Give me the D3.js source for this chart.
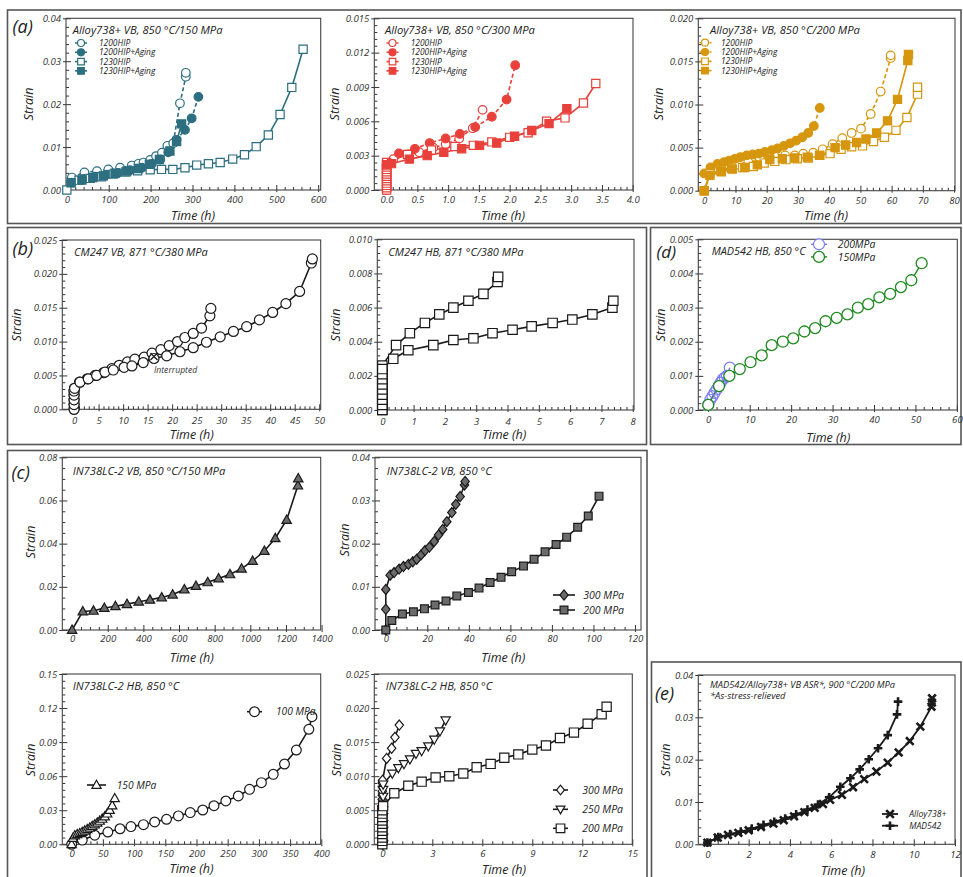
<!DOCTYPE html>
<html>
<head>
<meta charset="utf-8">
<script src="https://cdn.jsdelivr.net/npm/d3@7"></script>
<style>
  html, body { margin: 0; padding: 0; background: #fff; }
  svg { display: block; font-family: "Open Sans", "DejaVu Sans", sans-serif; }
</style>
</head>
<body>
<svg id="fig" width="963" height="877"></svg>
<script>
// ---------------- creep data: [time (h), strain] ----------------
// (a) Alloy738+ VB, 850 °C / 150 MPa
const a1_1200HIP = [[12,0.0029],[42,0.0041],[72,0.0044],[99,0.0048],[127,0.0052],[155,0.0057],[171,0.0061],[183,0.0064],[199,0.007],[213,0.0079],[227,0.0087],[240,0.0103],[254,0.0109],[270,0.0202],[284,0.0264],[284,0.0273]];
const a1_1200HIPAging = [[12,0.0017],[40,0.0026],[68,0.0031],[95,0.0036],[123,0.004],[151,0.0046],[179,0.0052],[203,0.0061],[223,0.0071],[242,0.0088],[262,0.0117],[282,0.014],[298,0.0167],[314,0.0217]];
const a1_1230HIP = [[0,0],[29,0.0023],[56,0.0027],[83,0.0031],[111,0.0037],[141,0.0042],[169,0.0045],[199,0.0047],[226,0.0048],[253,0.0048],[282,0.0052],[310,0.0058],[338,0.0061],[366,0.0064],[396,0.0072],[424,0.0082],[452,0.0101],[481,0.0128],[509,0.0176],[537,0.0239],[564,0.0328]];
const a1_1230HIPAging = [[10,0.0017],[36,0.0023],[62,0.0029],[87,0.0033],[115,0.0039],[143,0.0044],[171,0.005],[197,0.006],[221,0.0071],[246,0.0091],[262,0.0113],[274,0.0154]];

// (a) Alloy738+ VB, 850 °C / 300 MPa
const a2_1200HIP = [[0,0],[0,0.0002],[0,0.0004],[0,0.0006],[0,0.0008],[0,0.001],[0,0.0012],[0,0.0014],[0,0.0016],[0,0.0018],[0,0.002],[0,0.0022],[0.11,0.0027],[0.34,0.0031],[0.53,0.0033],[0.76,0.0037],[0.96,0.004],[1.18,0.0045],[1.4,0.0054],[1.56,0.007]];
const a2_1200HIPAging = [[0,0.0022],[0.2,0.0032],[0.46,0.0036],[0.7,0.0041],[0.96,0.0045],[1.19,0.0049],[1.44,0.0055],[1.71,0.0064],[1.95,0.0079],[2.09,0.0109]];
const a2_1230HIP = [[0,0],[0,0.0002],[0,0.0004],[0,0.0006],[0,0.0008],[0,0.001],[0,0.0012],[0,0.0014],[0,0.0016],[0,0.0018],[0,0.002],[0,0.0022],[0,0.0024],[0.34,0.0031],[0.73,0.0035],[1.11,0.0038],[1.41,0.0039],[1.71,0.0042],[2.0,0.0046],[2.3,0.005],[2.6,0.006],[2.9,0.0063],[3.2,0.0076],[3.4,0.0093]];
const a2_1230HIPAging = [[0,0.0022],[0.08,0.0023],[0.37,0.0027],[0.66,0.003],[0.93,0.0033],[1.22,0.0036],[1.51,0.0039],[1.79,0.0041],[2.08,0.0047],[2.36,0.0052],[2.64,0.0058],[2.93,0.0071]];

// (a) Alloy738+ VB, 850 °C / 200 MPa
const a3_1200HIP = [[0,0],[1.8,0.002],[5.6,0.0024],[9.8,0.0029],[14.1,0.0033],[17.8,0.0038],[22.6,0.004],[25.9,0.0041],[29,0.0041],[31.7,0.0043],[34.9,0.0044],[37.9,0.0048],[41.1,0.0054],[44.2,0.0061],[47.2,0.0067],[50.2,0.0072],[53.3,0.0089],[56.5,0.0115],[59.7,0.0154],[59.7,0.0157]];
const a3_1200HIPAging = [[0,0.002],[2,0.0027],[4.2,0.0031],[6.3,0.0033],[8,0.0035],[9.8,0.0037],[11.6,0.0039],[13.6,0.0041],[15.5,0.0042],[17.5,0.0043],[19.4,0.0045],[21.6,0.0047],[23.5,0.0049],[25.5,0.0052],[27.5,0.0055],[29.4,0.0058],[31.4,0.0062],[33.3,0.0067],[35.1,0.0075],[37,0.0096]];
const a3_1230HIP = [[0,0],[1.8,0.002],[5.2,0.0023],[8.8,0.0026],[12.3,0.0027],[15.7,0.0028],[19.2,0.0032],[22.6,0.0034],[26.2,0.0036],[29.8,0.0037],[33.3,0.0038],[36.9,0.0041],[40.3,0.0043],[43.8,0.0048],[47.2,0.0051],[50.7,0.0052],[54.2,0.0057],[57.7,0.0062],[61.4,0.007],[64.9,0.0085],[68.3,0.0112],[68.3,0.012]];
const a3_1230HIPAging = [[0,0],[1.8,0.0018],[5.5,0.0022],[9,0.0025],[13,0.0027],[17,0.003],[21,0.0036],[25,0.0037],[29,0.0038],[33,0.0039],[37,0.0041],[41.9,0.005],[45.3,0.0053],[48.8,0.0056],[51.8,0.006],[55.2,0.0067],[58.7,0.0081],[61.9,0.0106],[65.2,0.0151],[65.4,0.0158]];

// (b) CM247 VB / HB, 871 °C / 380 MPa
const b1_testA = [[0,0],[0,0.0007],[0,0.0014],[0,0.0021],[0,0.0027],[0.1,0.0031],[1.1,0.004],[2.7,0.0045],[4.3,0.005],[6,0.0054],[7.7,0.006],[9.2,0.0065],[10.9,0.007],[12.4,0.0074],[14.3,0.0077],[15.9,0.0083],[17.7,0.0088],[19.4,0.0094],[21.1,0.01],[22.6,0.0106],[24.3,0.0112],[26,0.012],[27.7,0.0138],[27.9,0.0149]];
const b1_testB = [[0,0],[0,0.0007],[0,0.0014],[0,0.0021],[0,0.0027],[0.1,0.0031],[1.2,0.004],[2.9,0.0045],[4.6,0.005],[6.3,0.0055],[8,0.0058],[10.2,0.0062],[11.8,0.0064],[14.1,0.0069],[16.3,0.0075],[18.9,0.0079],[21.6,0.0085],[24.3,0.0091],[27,0.0099],[29.8,0.0107],[32.5,0.0115],[35.2,0.0122],[37.8,0.0132],[40.5,0.0143],[43.2,0.0156],[46,0.0174],[48.4,0.0216],[48.6,0.0222]];
const b1_interrupted = [[16.3,0.0078]];
const b2_testA = [[0,0],[0,0.0003],[0,0.0006],[0,0.0009],[0,0.0012],[0,0.0015],[0,0.0018],[0,0.0021],[0,0.0024],[0,0.0026],[0.44,0.0038],[0.88,0.0045],[1.36,0.0051],[1.82,0.0056],[2.27,0.006],[2.75,0.0064],[3.23,0.0068],[3.68,0.0075],[3.7,0.0078]];
const b2_testB = [[0,0],[0,0.0003],[0,0.0006],[0,0.0009],[0,0.0012],[0,0.0015],[0,0.0018],[0,0.0021],[0,0.0024],[0.35,0.003],[0.83,0.0035],[1.63,0.0038],[2.27,0.0041],[2.91,0.0042],[3.52,0.0045],[4.16,0.0047],[4.77,0.0049],[5.44,0.0051],[6.07,0.0053],[6.71,0.0056],[7.35,0.006],[7.38,0.0064]];

// (d) MAD542 HB, 850 °C
const d_200MPa = [[0,0.00015],[0.5,0.0003],[1,0.0004],[1.5,0.0005],[2,0.0006],[2.5,0.0007],[3,0.0008],[3.5,0.0009],[4,0.00095],[4.5,0.001],[5.2,0.00124]];
const d_150MPa = [[0,0.00015],[2.6,0.0007],[5.1,0.001],[7.6,0.0012],[10.2,0.0014],[12.9,0.0016],[15.3,0.0019],[18,0.002],[20.5,0.0021],[23.2,0.0023],[25.8,0.0024],[28.3,0.0026],[31,0.0027],[33.6,0.0028],[36.1,0.003],[38.6,0.0031],[41.3,0.0033],[43.9,0.0034],[46.5,0.0036],[49,0.0038],[51.5,0.0043]];

// (c) IN738LC-2
const c1_150MPa = [[0,0],[60,0.0086],[120,0.0089],[181,0.0102],[243,0.011],[308,0.012],[374,0.0131],[437,0.014],[503,0.0151],[564,0.0164],[630,0.0188],[695,0.0204],[761,0.0221],[822,0.0239],[886,0.0258],[951,0.0284],[1013,0.032],[1079,0.0366],[1140,0.0425],[1204,0.051],[1267,0.0669],[1269,0.0702]];
const c2_300MPa = [[0,0],[0,0.0048],[0,0.0094],[2.1,0.0127],[4,0.0133],[6.4,0.0141],[8.5,0.0147],[10.9,0.0152],[13,0.0158],[14.9,0.0164],[17,0.0174],[18.9,0.0184],[21,0.0192],[23.3,0.0205],[25.4,0.022],[27.4,0.0233],[29.4,0.0251],[31.8,0.0272],[33.7,0.0291],[35.8,0.0309],[37.9,0.0336],[38.2,0.0344]];
const c2_200MPa = [[0,0],[2.9,0.0022],[8,0.0037],[13.3,0.0042],[18.6,0.0049],[23.7,0.0058],[29,0.0067],[34.2,0.0079],[39.8,0.0087],[44.9,0.0097],[50.2,0.011],[55.5,0.0122],[60.6,0.0135],[66.3,0.0148],[71.4,0.0164],[76.7,0.0181],[82,0.0198],[87.1,0.0215],[92.4,0.0238],[97.5,0.0264],[102.7,0.031]];
const c3_100MPa = [[0,0],[17,0.0037],[37,0.008],[58,0.0108],[77.5,0.0137],[95,0.0156],[115,0.0173],[133,0.0197],[152,0.022],[171,0.025],[190,0.0279],[210,0.0302],[228,0.034],[247,0.0382],[267,0.0426],[285,0.0484],[304,0.0543],[323,0.0616],[341,0.0707],[360,0.083],[380,0.1013],[385,0.1124]];
const c3_150MPa = [[0,0],[2,0.0055],[5,0.0078],[9,0.0088],[13,0.0097],[17,0.0108],[21,0.012],[25,0.0133],[29,0.0146],[33,0.016],[37,0.0175],[41,0.019],[45,0.0206],[49,0.0224],[53,0.0245],[57,0.027],[61,0.0302],[65,0.0342],[69,0.0405]];
const c4_300MPa = [[0,0],[0,0.0006],[0,0.0012],[0,0.0018],[0,0.0024],[0,0.003],[0,0.0036],[0,0.0042],[0,0.0048],[0,0.0054],[0,0.006],[0,0.0066],[0,0.0072],[0,0.0078],[0,0.0084],[0,0.009],[0.02,0.0094],[0.26,0.0126],[0.56,0.0141],[0.76,0.0157],[1.02,0.0175]];
const c4_250MPa = [[0.05,0],[0.05,0.001],[0.05,0.002],[0.05,0.003],[0.05,0.004],[0.05,0.005],[0.05,0.006],[0.05,0.007],[0.05,0.008],[0.05,0.0088],[0.6,0.0104],[0.96,0.0112],[1.3,0.0118],[1.66,0.0125],[2.02,0.0133],[2.36,0.0137],[2.76,0.0144],[3.12,0.0154],[3.46,0.0166],[3.8,0.0182]];
const c4_200MPa = [[0,0],[0,0.0005],[0,0.001],[0,0.0015],[0,0.002],[0,0.0025],[0,0.003],[0,0.0035],[0,0.004],[0,0.0045],[0,0.005],[0.05,0.0056],[0.72,0.0075],[1.56,0.0086],[2.36,0.0092],[3.2,0.0098],[4.02,0.01],[4.86,0.0104],[5.66,0.0113],[6.5,0.0118],[7.32,0.0127],[8.16,0.0132],[9,0.0139],[9.82,0.0145],[10.66,0.0156],[11.5,0.0164],[12.32,0.0177],[13.16,0.0191],[13.46,0.0202]];

// (e) MAD542 / Alloy738+ VB ASR, 900 °C / 200 MPa
const e_alloy738 = [[0,0.0004],[0.5,0.0016],[1.0,0.0022],[1.5,0.0027],[2.0,0.0033],[2.6,0.0041],[3.2,0.0049],[3.7,0.0057],[4.2,0.0066],[4.7,0.0076],[5.2,0.0086],[5.6,0.0095],[5.95,0.0105],[6.52,0.0117],[7.06,0.0135],[7.6,0.0154],[8.19,0.0172],[8.74,0.0193],[9.27,0.0217],[9.81,0.0244],[10.32,0.0278],[10.86,0.0325],[10.88,0.0335],[10.89,0.0345]];
const e_mad542 = [[0,0.0004],[0.53,0.0017],[1.1,0.0024],[1.62,0.003],[2.15,0.0037],[2.72,0.0046],[3.24,0.0053],[3.77,0.0061],[4.3,0.0071],[4.85,0.0082],[5.36,0.0094],[5.9,0.0111],[6.44,0.0136],[6.93,0.0156],[7.38,0.0177],[7.82,0.0201],[8.27,0.0227],[8.74,0.0258],[9.19,0.0307],[9.24,0.0337]];

// ---------------- tick values ----------------
const a1_xTicks = [0,100,200,300,400,500,600];
const a1_yTicks = [0,0.01,0.02,0.03,0.04];
const a2_xTicks = [0,0.5,1,1.5,2,2.5,3,3.5,4];
const a2_yTicks = [0,0.003,0.006,0.009,0.012,0.015];
const a3_xTicks = [0,10,20,30,40,50,60,70,80];
const a3_yTicks = [0,0.005,0.01,0.015,0.02];
const b1_xTicks = [0,5,10,15,20,25,30,35,40,45,50];
const b1_yTicks = [0,0.005,0.01,0.015,0.02,0.025];
const b2_xTicks = [0,1,2,3,4,5,6,7,8];
const b2_yTicks = [0,0.002,0.004,0.006,0.008,0.01];
const d_xTicks = [0,10,20,30,40,50,60];
const d_yTicks = [0,0.001,0.002,0.003,0.004,0.005];
const c1_xTicks = [0,200,400,600,800,1000,1200,1400];
const c1_yTicks = [0,0.02,0.04,0.06,0.08];
const c2_xTicks = [0,20,40,60,80,100,120];
const c2_yTicks = [0,0.01,0.02,0.03,0.04];
const c3_xTicks = [0,50,100,150,200,250,300,350,400];
const c3_yTicks = [0,0.03,0.06,0.09,0.12,0.15];
const c4_xTicks = [0,3,6,9,12,15];
const c4_yTicks = [0,0.005,0.01,0.015,0.02,0.025];
const e_xTicks = [0,2,4,6,8,10,12];
const e_yTicks = [0,0.01,0.02,0.03,0.04];

// ---------------- styling ----------------
const TEAL = '#2d6f80', RED = '#e8413b', GOLD = '#d6960d';
const BLUE = '#7a7af5', GREEN = '#1f8a1f', GREYFILL = '#6b6b6b', INK = '#1a1a1a';
const TXT = '#333';

function shapePath(type, h) {
  switch (type) {
    case 'circle': return `M${h},0A${h},${h} 0 1,1 ${-h},0A${h},${h} 0 1,1 ${h},0Z`;
    case 'square': return `M${-h},${-h}H${h}V${h}H${-h}Z`;
    case 'triangle': return `M0,${-h*1.15}L${h*1.1},${h*0.8}L${-h*1.1},${h*0.8}Z`;
    case 'triangleDown': return `M0,${h*1.15}L${h*1.1},${-h*0.8}L${-h*1.1},${-h*0.8}Z`;
    case 'diamond': return `M0,${-h*1.2}L${h},0L0,${h*1.2}L${-h},0Z`;
    case 'times': return `M${-h},${-h}L${h},${h}M${-h},${h}L${h},${-h}`;
    case 'plus': return `M${-h},0H${h}M0,${-h}V${h}`;
  }
}

// series style helpers
function aSeries(data, color, shape, filled, dashed) {
  return { data, shape, size: shape === 'circle' ? 4.3 : 4.1, fill: filled ? color : '#fff',
           stroke: color, line: color, dash: dashed ? '4,2.5' : null, lw: 1.6, mlw: 1.2 };
}
function blkSeries(data, shape, fill, size) {
  return { data, shape, size, fill, stroke: INK, line: INK, dash: null, lw: 1.6, mlw: 1.2 };
}

const aLegendLabels = ['1200HIP', '1200HIP+Aging', '1230HIP', '1230HIP+Aging'];
const aLegendRows = [43, 52.3, 61.6, 70.9];

function makeA(color, sets) {
  return [
    aSeries(sets[0], color, 'circle', false, true),
    aSeries(sets[1], color, 'circle', true, true),
    aSeries(sets[2], color, 'square', false, false),
    aSeries(sets[3], color, 'square', true, false)
  ];
}
const aS1 = makeA(TEAL, [a1_1200HIP, a1_1200HIPAging, a1_1230HIP, a1_1230HIPAging]);
const aS2 = makeA(RED, [a2_1200HIP, a2_1200HIPAging, a2_1230HIP, a2_1230HIPAging]);
const aS3 = makeA(GOLD, [a3_1200HIP, a3_1200HIPAging, a3_1230HIP, a3_1230HIPAging]);

function aLegend(series, x1, x2, mx, tx, rows) {
  return { fs: 8.4, items: series.map((s, i) => ({ s, x1, x2, mx, y: rows[i], tx, label: aLegendLabels[i], size: s.shape === 'circle' ? 3.5 : 3.3 })) };
}

const fmt = d3.format;
const panels = [
  { rect: [66, 18.3, 320.7, 190], x: [-2, 606], y: [0, 0.04], xt: a1_xTicks, yt: a1_yTicks, xm: 20, ym: 0.002,
    xf: fmt('d'), yf: fmt('.2f'), xpad: 6, title: ['Alloy738+ VB, 850 °C/150 MPa'], tfs: 11.2, tpos: [72.7, 34],
    xl: [193, 220], yl: [28.3, 104], series: aS1, legend: aLegend(aS1, 75, 87, 81, 99, aLegendRows) },
  { rect: [374.3, 18.3, 633, 190], x: [-0.2, 4.005], y: [0, 0.015], xt: a2_xTicks, yt: a2_yTicks, xm: 0.1, ym: 0.0006,
    xf: fmt('.1f'), yf: fmt('.3f'), xpad: 6, title: ['Alloy738+ VB, 850 °C/300 MPa'], tfs: 11.2, tpos: [385, 34],
    xl: [503, 220], yl: [334.3, 104], series: aS2, legend: aLegend(aS2, 386.5, 398.5, 392.5, 410.7, aLegendRows) },
  { rect: [698.3, 18.3, 955, 190.7], x: [-1.9, 80.3], y: [0, 0.02], xt: a3_xTicks, yt: a3_yTicks, xm: 2, ym: 0.001,
    xf: fmt('d'), yf: fmt('.3f'), xpad: 6, title: ['Alloy738+ VB, 850 °C/200 MPa'], tfs: 11.2, tpos: [710, 34],
    xl: [826, 220], yl: [658.3, 104], series: aS3, legend: aLegend(aS3, 699.5, 711.5, 705, 721, [42.7, 52, 61.3, 70.6]) },

  { rect: [62.3, 240, 320.7, 409.3], x: [-2.4, 50.3], y: [0, 0.025], xt: b1_xTicks, yt: b1_yTicks, xm: 1, ym: 0.001,
    xf: fmt('d'), yf: fmt('.3f'), xpad: 8, title: ['CM247 VB, 871 °C/380 MPa'], tfs: 11, tpos: [74, 255.5],
    xl: [191.7, 439], yl: [16.7, 325],
    series: [blkSeries(b1_testA, 'circle', '#fff', 5), blkSeries(b1_testB, 'circle', '#fff', 5)],
    extra: 'interrupted' },
  { rect: [377.3, 239.3, 634, 410], x: [-0.16, 8.04], y: [0, 0.01], xt: b2_xTicks, yt: b2_yTicks, xm: 0.2, ym: 0.0004,
    xf: fmt('d'), yf: fmt('.3f'), xpad: 8, title: ['CM247 HB, 871 °C/380 MPa'], tfs: 11, tpos: [388.3, 255.5],
    xl: [504.3, 439], yl: [335, 325],
    series: [blkSeries(b2_testA, 'square', '#fff', 4.7), blkSeries(b2_testB, 'square', '#fff', 4.7)] },
  { rect: [698.3, 239.3, 957.3, 410], x: [-2.4, 60.1], y: [0, 0.005], xt: d_xTicks, yt: d_yTicks, xm: 2, ym: 0.0002,
    xf: fmt('d'), yf: fmt('.3f'), xpad: 6.5, title: ['MAD542 HB, 850 °C'], tfs: 10.8, tpos: [711.7, 255],
    xl: [828.3, 442], yl: [660, 325],
    series: [
      { data: d_200MPa, shape: 'circle', size: 5.5, fill: 'none', stroke: BLUE, line: BLUE, dash: null, lw: 1.4, mlw: 1.2 },
      { data: d_150MPa, shape: 'circle', size: 5.5, fill: '#fff', stroke: GREEN, line: GREEN, dash: null, lw: 1.4, mlw: 1.3 }
    ],
    legend: { fs: 10.4, items: [
      { si: 0, x1: 811, x2: 827, mx: 819, y: 244.3, tx: 837.7, label: '200MPa', size: 5.5 },
      { si: 1, x1: 811, x2: 827, mx: 819, y: 256.9, tx: 837.7, label: '150MPa', size: 5.5 } ] } },

  { rect: [62.3, 457.3, 320.7, 630], x: [-55, 1395], y: [0, 0.08], xt: c1_xTicks, yt: c1_yTicks, xm: 50, ym: 0.005,
    xf: fmt('d'), yf: fmt('.2f'), xpad: 5, title: ['IN738LC-2 VB, 850 °C/150 MPa'], tfs: 11.2, tpos: [72.7, 474.5],
    xl: [191.7, 662], yl: [30, 542],
    series: [blkSeries(c1_150MPa, 'triangle', GREYFILL, 4.3)] },
  { rect: [375, 457.3, 641, 630], x: [-5.2, 122.9], y: [0, 0.04], xt: c2_xTicks, yt: c2_yTicks, xm: 5, ym: 0.0025,
    xf: fmt('d'), yf: fmt('.2f'), xpad: 5, title: ['IN738LC-2 VB, 850 °C'], tfs: 11.2, tpos: [386.7, 474.5],
    xl: [503.3, 662], yl: [344, 540],
    series: [blkSeries(c2_300MPa, 'diamond', GREYFILL, 4.2), blkSeries(c2_200MPa, 'square', GREYFILL, 3.9)],
    legend: { fs: 10.5, items: [
      { si: 0, x1: 553, x2: 575, mx: 564, y: 595, tx: 583.3, label: '300 MPa', size: 4.2 },
      { si: 1, x1: 553, x2: 575, mx: 564, y: 610, tx: 583.3, label: '200 MPa', size: 3.9 } ] } },
  { rect: [62.3, 674, 320.7, 844.3], x: [-15, 399], y: [0, 0.15], xt: c3_xTicks, yt: c3_yTicks, xm: 10, ym: 0.006,
    xf: fmt('d'), yf: fmt('.2f'), xpad: 5.5, title: ['IN738LC-2 HB, 850 °C'], tfs: 11.2, tpos: [72.7, 690],
    xl: [191.5, 872.5], yl: [30, 760],
    series: [blkSeries(c3_100MPa, 'circle', '#fff', 4.9), blkSeries(c3_150MPa, 'triangle', '#fff', 4.2)],
    legend: { fs: 10.2, items: [
      { si: 0, x1: 247, x2: 262, mx: 254.5, y: 711.7, tx: 276, label: '100 MPa', size: 4.9 },
      { si: 1, x1: 87, x2: 106, mx: 96.5, y: 785, tx: 116.7, label: '150 MPa', size: 4.2 } ] } },
  { rect: [374.3, 674, 632.3, 844.3], x: [-0.48, 15], y: [0, 0.025], xt: c4_xTicks, yt: c4_yTicks, xm: 0.6, ym: 0.001,
    xf: fmt('d'), yf: fmt('.3f'), xpad: 6, title: ['IN738LC-2 HB, 850 °C'], tfs: 11.2, tpos: [385.7, 690],
    xl: [504, 873.5], yl: [336, 760],
    series: [blkSeries(c4_300MPa, 'diamond', '#fff', 4.2), blkSeries(c4_250MPa, 'triangleDown', '#fff', 4.2),
             blkSeries(c4_200MPa, 'square', '#fff', 4.6)],
    legend: { fs: 10.5, items: [
      { si: 0, x1: 553, x2: 568, mx: 560.5, y: 790, tx: 582.3, label: '300 MPa', size: 4 },
      { si: 1, x1: 553, x2: 568, mx: 560.5, y: 809.3, tx: 582.3, label: '250 MPa', size: 4 },
      { si: 2, x1: 553, x2: 568, mx: 560.5, y: 828.3, tx: 582.3, label: '200 MPa', size: 4.3 } ] } },

  { rect: [698.3, 675, 955, 844.3], x: [-0.44, 12], y: [0, 0.04], xt: e_xTicks, yt: e_yTicks, xm: 0.5, ym: 0.002,
    xf: fmt('d'), yf: fmt('.2f'), xpad: 7, title: ['MAD542/Alloy738+ VB ASR*, 900 °C/200 MPa', '*As-stress-relieved'],
    tfs: 9.3, tstep: 11, tpos: [710, 687.5], xl: [843, 874.5], yl: [665, 760],
    series: [
      { data: e_alloy738, shape: 'times', size: 3.8, fill: 'none', stroke: INK, line: INK, dash: null, lw: 1.8, mlw: 2.6 },
      { data: e_mad542, shape: 'plus', size: 4.3, fill: 'none', stroke: INK, line: INK, dash: null, lw: 1.8, mlw: 2.6 }
    ],
    legend: { fs: 8.6, items: [
      { si: 0, x1: 882, x2: 898, mx: 890, y: 814, tx: 909.3, label: 'Alloy738+', size: 3.8 },
      { si: 1, x1: 882, x2: 898, mx: 890, y: 825.7, tx: 909.3, label: 'MAD542', size: 4.3 } ] } }
];

const svg = d3.select('#fig');

// group boxes around the sub-figures
const boxes = [
  { x: 7.5, y: 10, w: 953.5, h: 213.5 },
  { x: 7.5, y: 227.5, w: 639, h: 217 },
  { x: 650.5, y: 227.5, w: 310.5, h: 217 },
  { x: 7.5, y: 450.5, w: 639.5, h: 440 },
  { x: 651.5, y: 662, w: 309.5, h: 230 }
];
svg.append('g').selectAll('rect').data(boxes).join('rect')
  .attr('x', d => d.x).attr('y', d => d.y).attr('width', d => d.w).attr('height', d => d.h)
  .attr('fill', 'none').attr('stroke', '#555').attr('stroke-width', 1.6);

function minorValues(domainTicks, step) {
  const lo = domainTicks[0], hi = domainTicks[domainTicks.length - 1];
  const out = [];
  const n = Math.round((hi - lo) / step);
  for (let i = 0; i <= n; i++) {
    const v = lo + i * step;
    if (!domainTicks.some(t => Math.abs(t - v) < step * 1e-3)) out.push(v);
  }
  return out;
}

function styleAxis(g) {
  g.select('.domain').remove();
  g.attr('font-family', '"Open Sans", sans-serif').attr('font-size', 9.6).attr('font-style', 'italic')
   .attr('color', '#333');
  g.selectAll('text').attr('fill', TXT);
}

function drawPanel(p) {
  const [x0, y0, x1, y1] = p.rect;
  const xs = d3.scaleLinear().domain(p.x).range([x0, x1]);
  const ys = d3.scaleLinear().domain(p.y).range([y1, y0]);
  const g = svg.append('g');

  // axes: major ticks inside with a short stub outside, minor ticks inside
  const gx = g.append('g').attr('transform', `translate(0,${y1})`)
    .call(d3.axisBottom(xs).tickValues(p.xt).tickFormat(p.xf).tickSizeInner(-5).tickSizeOuter(0).tickPadding(p.xpad));
  styleAxis(gx);
  gx.selectAll('.tick').append('line').attr('y2', 2).attr('stroke', 'currentColor');
  const gxm = g.append('g').attr('transform', `translate(0,${y1})`)
    .call(d3.axisBottom(xs).tickValues(minorValues(p.xt, p.xm).filter(v => v >= p.x[0] && v <= p.x[1]))
      .tickFormat('').tickSizeInner(-3).tickSizeOuter(0));
  styleAxis(gxm);

  const gy = g.append('g').attr('transform', `translate(${x0},0)`)
    .call(d3.axisLeft(ys).tickValues(p.yt).tickFormat(p.yf).tickSizeInner(-5).tickSizeOuter(0).tickPadding(5));
  styleAxis(gy);
  gy.selectAll('.tick').append('line').attr('x2', -3).attr('stroke', 'currentColor');
  const gym = g.append('g').attr('transform', `translate(${x0},0)`)
    .call(d3.axisLeft(ys).tickValues(minorValues(p.yt, p.ym)).tickFormat('').tickSizeInner(-3).tickSizeOuter(0));
  styleAxis(gym);

  // frame
  g.append('rect').attr('x', x0).attr('y', y0).attr('width', x1 - x0).attr('height', y1 - y0)
    .attr('fill', 'none').attr('stroke', '#444').attr('stroke-width', 1.1);

  // curves
  const line = d3.line().x(d => xs(d[0])).y(d => ys(d[1]));
  p.series.forEach(s => {
    g.append('path').attr('d', line(s.data)).attr('fill', 'none')
      .attr('stroke', s.line).attr('stroke-width', s.lw).attr('stroke-dasharray', s.dash)
      .attr('stroke-linejoin', 'round');
  });
  // markers
  p.series.forEach(s => {
    g.append('g').selectAll('path').data(s.data).join('path')
      .attr('transform', d => `translate(${xs(d[0])},${ys(d[1])})`)
      .attr('d', shapePath(s.shape, s.size))
      .attr('fill', s.fill).attr('stroke', s.stroke).attr('stroke-width', s.mlw);
  });

  if (p.extra === 'interrupted') {
    g.append('g').selectAll('path').data(b1_interrupted).join('path')
      .attr('transform', d => `translate(${xs(d[0])},${ys(d[1])})`)
      .attr('d', shapePath('times', 3.5)).attr('fill', 'none').attr('stroke', INK).attr('stroke-width', 1.3);
    g.append('text').attr('x', 154).attr('y', 372.5).text('Interrupted')
      .attr('font-size', 8.6).attr('font-style', 'italic').attr('fill', TXT);
  }

  // title
  p.title.forEach((t, i) => {
    g.append('text').attr('x', p.tpos[0]).attr('y', p.tpos[1] + i * (p.tstep || 10.5)).text(t)
      .attr('font-size', p.tfs).attr('font-style', 'italic').attr('fill', '#222');
  });

  // axis titles
  g.append('text').attr('x', p.xl[0]).attr('y', p.xl[1]).attr('text-anchor', 'middle')
    .attr('font-size', 12.5).attr('font-style', 'italic').attr('fill', '#222').text('Time (h)');
  g.append('text').attr('transform', `translate(${p.yl[0] + 4.5},${p.yl[1]}) rotate(-90)`).attr('text-anchor', 'middle')
    .attr('font-size', 12.5).attr('font-style', 'italic').attr('fill', '#222').text('Strain');

  // legend
  if (p.legend) {
    p.legend.items.forEach(it => {
      const s = it.s || p.series[it.si];
      g.append('line').attr('x1', it.x1).attr('x2', it.x2).attr('y1', it.y).attr('y2', it.y)
        .attr('stroke', s.line).attr('stroke-width', s.lw).attr('stroke-dasharray', s.dash ? '3,2' : null);
      g.append('path').attr('transform', `translate(${it.mx},${it.y})`).attr('d', shapePath(s.shape, it.size))
        .attr('fill', s.fill === 'none' && s.shape === 'circle' ? '#fff' : s.fill)
        .attr('stroke', s.stroke).attr('stroke-width', s.mlw);
      g.append('text').attr('x', it.tx).attr('y', it.y).attr('dy', '0.35em').text(it.label)
        .attr('font-size', p.legend.fs).attr('font-style', 'italic').attr('fill', '#222');
    });
  }
}

panels.forEach(drawPanel);

// sub-figure letters
const letters = [
  { t: '(a)', x: 12.5, y: 32.5 }, { t: '(b)', x: 12.5, y: 255 }, { t: '(d)', x: 656.5, y: 257.5 },
  { t: '(c)', x: 11.5, y: 479 }, { t: '(e)', x: 655, y: 699.5 }
];
svg.append('g').selectAll('text').data(letters).join('text')
  .attr('x', d => d.x).attr('y', d => d.y).text(d => d.t)
  .attr('font-size', d => d.t === '(d)' ? 17 : 18).attr('font-style', 'italic').attr('fill', '#222');
</script>
</body>
</html>
